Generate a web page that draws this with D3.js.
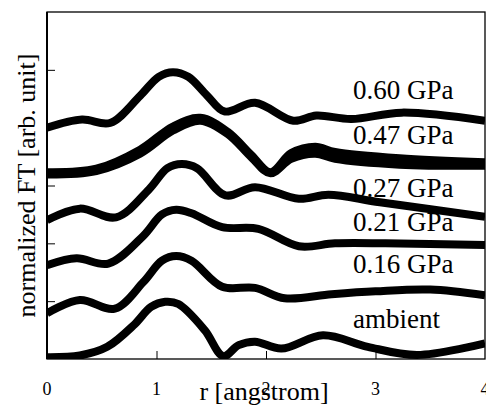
<!DOCTYPE html>
<html>
<head>
<meta charset="utf-8">
<script src="https://cdn.jsdelivr.net/npm/d3@7"></script>
<style>
  body { margin: 0; background: #fff; }
  text { font-family: "Liberation Serif", "Times New Roman", serif; fill: #000; }
</style>
</head>
<body>
<div id="chart"></div>
<script>
// r [angstrom], normalized FT (offset per pressure)
const ambient = [[0,0.03],[0.3,0.06],[0.55,0.21],[0.8,0.6],[0.95,0.9],[1.08,0.99],[1.2,0.95],[1.44,0.5],[1.61,0.05],[1.75,0.24],[1.9,0.3],[2.14,0.18],[2.52,0.41],[2.93,0.21],[3.38,0.07],[4,0.27]];
const gpa016 = [[0,0.79],[0.3,1.02],[0.62,0.87],[0.88,1.33],[1.05,1.7],[1.18,1.78],[1.32,1.7],[1.6,1.25],[1.9,1.23],[2.17,1.05],[2.6,1.12],[3.0,1.17],[3.5,1.2],[4,1.1]];
const gpa021 = [[0,1.62],[0.27,1.74],[0.56,1.65],[0.88,2.13],[1.05,2.5],[1.18,2.58],[1.32,2.52],[1.6,2.28],[1.93,2.25],[2.3,1.95],[2.63,2.0],[3.09,2.0],[4,1.97]];
const gpa027 = [[0,2.4],[0.3,2.6],[0.63,2.45],[0.93,2.93],[1.1,3.3],[1.23,3.37],[1.37,3.3],[1.63,2.83],[1.9,2.97],[2.3,2.77],[2.57,2.84],[3.04,2.71],[4,2.46]];
const gpa047a = [[0,3.23],[0.45,3.29],[0.85,3.62],[1.15,4.02],[1.4,4.17],[1.65,3.93],[1.87,3.52],[2.04,3.23],[2.23,3.56],[2.45,3.67],[2.63,3.58],[3.22,3.47],[4,3.4]];
const gpa047b = [[0,3.19],[0.45,3.25],[0.85,3.55],[1.15,3.95],[1.4,4.12],[1.65,3.89],[1.87,3.48],[2.04,3.21],[2.23,3.46],[2.45,3.55],[2.63,3.46],[3.22,3.36],[4,3.34]];
const gpa060 = [[0,4.0],[0.32,4.14],[0.575,4.08],[0.85,4.55],[1.02,4.88],[1.15,4.96],[1.29,4.88],[1.46,4.56],[1.62,4.28],[1.9,4.43],[2.25,4.12],[2.46,4.21],[2.78,4.15],[3.24,4.26],[4,4.12]];

const series = [ambient, gpa016, gpa021, gpa027, gpa047a, gpa047b, gpa060];
const labels = ["ambient", "0.16 GPa", "0.21 GPa", "0.27 GPa", "0.47 GPa", "0.60 GPa"];
const labelLevels = [0.53, 1.49, 2.21, 2.8, 3.72, 4.5];
const xTicks = [0, 1, 2, 3, 4];
const yTicks = [1, 2, 3, 4, 5];

const width = 486, height = 405;
const m = { left: 47, right: 1, top: 12, bottom: 46 };

const svg = d3.select("#chart").append("svg")
  .attr("width", width).attr("height", height);

const x = d3.scaleLinear().domain([0, 4]).range([m.left, width - m.right]);
const y = d3.scaleLinear().domain([0, 6]).range([height - m.bottom, m.top]);

svg.append("clipPath").attr("id", "plot")
  .append("rect")
  .attr("x", x(0)).attr("y", y(6))
  .attr("width", x(4) - x(0)).attr("height", y(0) - y(6));

const line = d3.line()
  .x(d => x(d[0]))
  .y(d => y(d[1]))
  .curve(d3.curveCatmullRom.alpha(0.5));

svg.append("g").attr("clip-path", "url(#plot)")
  .selectAll("path")
  .data(series)
  .join("path")
  .attr("d", line)
  .attr("fill", "none")
  .attr("stroke", "#000")
  .attr("stroke-width", 8)
  .attr("stroke-linejoin", "round");

// frame
svg.append("rect")
  .attr("x", x(0)).attr("y", y(6))
  .attr("width", x(4) - x(0)).attr("height", y(0) - y(6))
  .attr("fill", "none").attr("stroke", "#000").attr("stroke-width", 1.3);
svg.append("line")
  .attr("x1", x(0)).attr("x2", x(0)).attr("y1", y(6)).attr("y2", y(0))
  .attr("stroke", "#000").attr("stroke-width", 2);

// inward ticks
svg.append("g")
  .attr("transform", `translate(0,${y(0)})`)
  .call(d3.axisBottom(x).tickValues(xTicks.slice(1, 4)).tickSizeInner(-8).tickFormat(""))
  .call(g => g.select(".domain").remove());
svg.append("g")
  .attr("transform", `translate(${x(0)},0)`)
  .call(d3.axisLeft(y).tickValues(yTicks).tickSizeInner(-8).tickFormat(""))
  .call(g => g.select(".domain").remove());

svg.selectAll(".xlab")
  .data(xTicks)
  .join("text")
  .attr("x", d => x(d))
  .attr("y", 395)
  .attr("text-anchor", "middle")
  .attr("font-size", 18)
  .text(d => d);

svg.append("text")
  .attr("x", 264).attr("y", 400)
  .attr("text-anchor", "middle")
  .attr("font-size", 26)
  .text("r [angstrom]");

svg.append("text")
  .attr("transform", `translate(35,${(y(0) + y(6)) / 2}) rotate(-90)`)
  .attr("text-anchor", "middle")
  .attr("font-size", 26)
  .text("normalized FT [arb. unit]");

svg.selectAll(".slab")
  .data(labels)
  .join("text")
  .attr("x", 353)
  .attr("y", (d, i) => y(labelLevels[i]))
  .attr("font-size", 27)
  .text(d => d);
</script>
</body>
</html>
